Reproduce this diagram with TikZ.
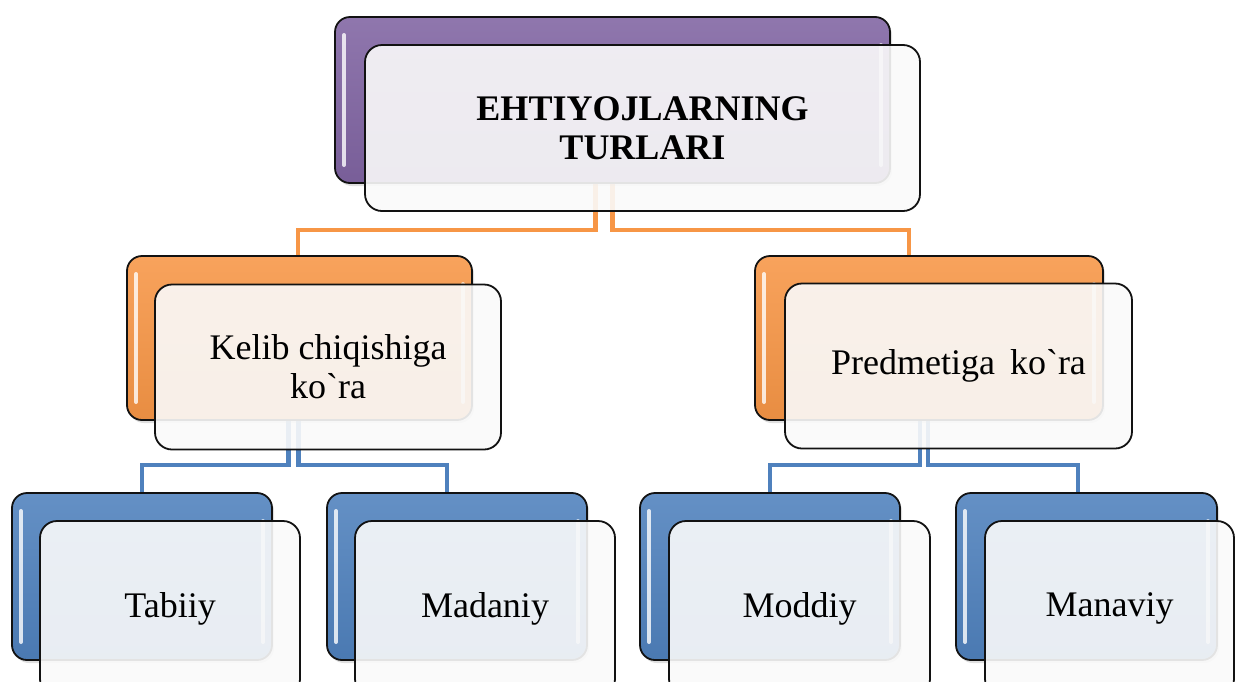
\documentclass[tikz,border=0pt]{standalone}
\usepackage{fontspec}
\setmainfont{Liberation Serif}[Ligatures=TeXOff]
\usetikzlibrary{shadows,backgrounds}
\definecolor{cpurple}{HTML}{8064A2}
\definecolor{corange}{HTML}{F79646}
\definecolor{cblue}{HTML}{4F81BD}
\definecolor{cline}{HTML}{121212}
\tikzset{
  backbox/.style={rectangle, rounded corners=15pt, draw=cline, line width=1.8pt,
    top color=#1!88!white, middle color=#1, bottom color=#1!94!black,
    inner sep=0pt, outer sep=0pt,
    drop shadow={opacity=.25, shadow xshift=2pt, shadow yshift=-3pt},
    path picture={
      \draw[white, opacity=.8, line width=4pt, line cap=round]
        ([xshift=9pt,yshift=-18pt]path picture bounding box.north west) --
        ([xshift=9pt,yshift=18pt]path picture bounding box.south west);
      \draw[white, opacity=.65, line width=4pt, line cap=round]
        ([xshift=-9pt,yshift=-28pt]path picture bounding box.north east) --
        ([xshift=-9pt,yshift=18pt]path picture bounding box.south east);}},
  frontbox/.style={rectangle, rounded corners=17pt, draw=cline, line width=1.8pt,
    fill=black!2, fill opacity=.9, text opacity=1, text=black,
    inner sep=0pt, outer sep=0pt, align=center,
    font=\fontsize{36}{39}\selectfont},
  oconn/.style={draw=corange, line width=4.5pt},
  bconn/.style={draw=cblue, line width=4.5pt},
}
\begin{document}
\begin{tikzpicture}[x=1pt,y=-1pt]
\useasboundingbox (0,0) rectangle (1236,681);
\clip (0,0) rectangle (1236,681);
% top
\node[backbox=cpurple, minimum width=555pt, minimum height=166pt] (top-b) at (612.5,100) {};
\node[frontbox, minimum width=555pt, minimum height=166pt] (top-f) at (642.5,128) {\bfseries EHTIYOJLARNING\\\bfseries TURLARI};
% middle
\node[backbox=corange, minimum width=345pt, minimum height=164pt] (left-b) at (299.5,338) {};
\node[frontbox, minimum width=346pt, minimum height=165pt] (left-f) at (328,367) {Kelib chiqishiga\\ko`ra};
\node[backbox=corange, minimum width=348pt, minimum height=164pt] (right-b) at (929,338) {};
\node[frontbox, minimum width=347pt, minimum height=165pt] (right-f) at (958.5,366) {Predmetiga\hspace{15pt}ko`ra};
% bottom
\node[backbox=cblue, minimum width=260pt, minimum height=167pt] (tab-b) at (142,576.5) {};
\node[frontbox, minimum width=260pt, minimum height=175pt] (tab-f) at (170,608.5) {Tabiiy};
\node[backbox=cblue, minimum width=260pt, minimum height=167pt] (mad-b) at (457,576.5) {};
\node[frontbox, minimum width=260pt, minimum height=175pt] (mad-f) at (485,608.5) {Madaniy};
\node[backbox=cblue, minimum width=260pt, minimum height=167pt] (mod-b) at (770,576.5) {};
\node[frontbox, minimum width=261pt, minimum height=175pt] (mod-f) at (799.5,608.5) {Moddiy};
\node[backbox=cblue, minimum width=261pt, minimum height=167pt] (man-b) at (1086.5,576.5) {};
\node[frontbox, minimum width=249pt, minimum height=175pt] (man-f) at (1109.5,608.5) {Manaviy};
% connectors
\begin{scope}[on background layer]
\fill[white] (0,0) rectangle (1236,681);
\draw[oconn] ([xshift=-17pt]top-b.south) -- ++(0,47) -| ([xshift=-1.5pt]left-b.north);
\draw[oconn] (top-b.south) -- ++(0,47) -| ([xshift=-20pt]right-b.north);
\draw[bconn] ([xshift=-11pt]left-b.south) -- ++(0,45) -| (tab-b.north);
\draw[bconn] ([xshift=-1pt]left-b.south) -- ++(0,45) -| ([xshift=-10pt]mad-b.north);
\draw[bconn] ([xshift=-9pt]right-b.south) -- ++(0,45) -| (mod-b.north);
\draw[bconn] ([xshift=-1pt]right-b.south) -- ++(0,45) -| ([xshift=-8.5pt]man-b.north);
\end{scope}
\end{tikzpicture}
\end{document}
